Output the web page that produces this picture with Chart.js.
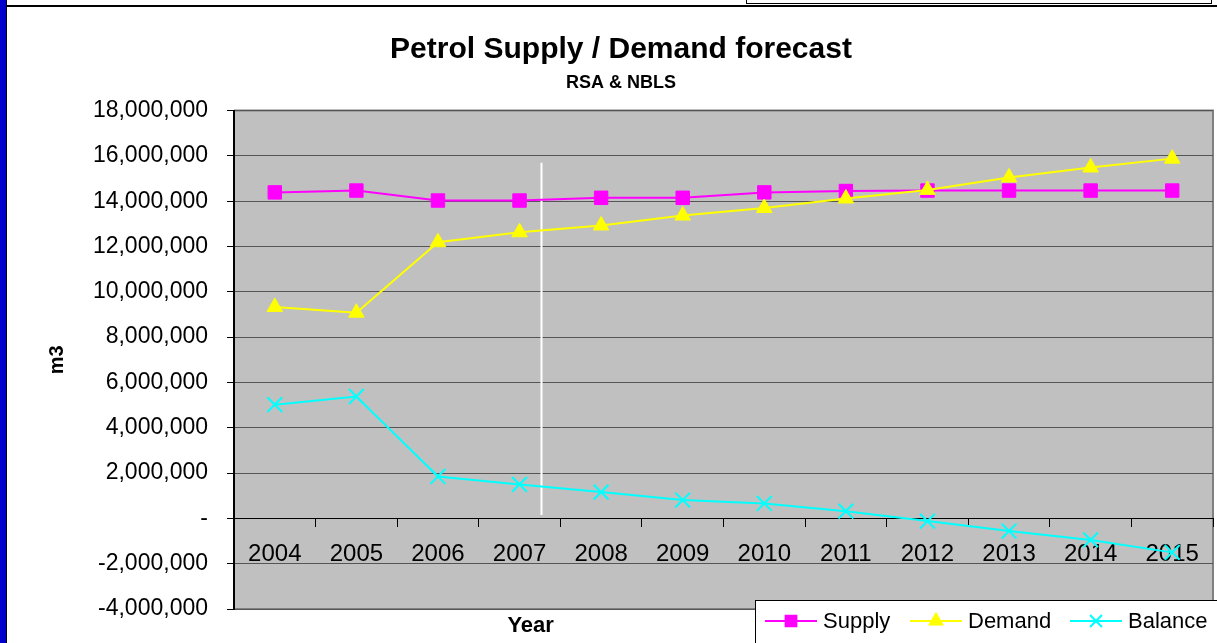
<!DOCTYPE html>
<html>
<head>
<meta charset="utf-8">
<script src="https://cdn.jsdelivr.net/npm/chart.js@4/dist/chart.umd.min.js"></script>
<style>
  html, body { margin: 0; padding: 0; background: #fff; overflow: hidden; }
  #wrap { position: relative; width: 1217px; height: 643px; }
  #c { position: absolute; left: 0; top: 0; }
  #strip { position: absolute; left: 0; top: 0; width: 6px; height: 643px; background: #0000CC; border-right: 1px solid #000; }
  #topline { position: absolute; left: 7px; top: 5px; width: 1210px; height: 2px; background: #000; }
  #topbox { position: absolute; left: 746px; top: -2px; width: 464px; height: 5px; border: 1px solid #000; border-top: none; background: #fff; }
</style>
</head>
<body>
<div id="wrap">
  <canvas id="c" width="1217" height="643"></canvas>
  <div id="strip"></div>
  <div id="topline"></div>
  <div id="topbox"></div>
</div>
<script>
const years = ['2004','2005','2006','2007','2008','2009','2010','2011','2012','2013','2014','2015'];
const supply  = [14390000, 14470000, 14030000, 14030000, 14150000, 14150000, 14390000, 14450000, 14470000, 14470000, 14470000, 14470000];
const demand  = [9330000, 9080000, 12190000, 12630000, 12930000, 13370000, 13700000, 14120000, 14500000, 15050000, 15490000, 15880000];
const balance = [5020000, 5380000, 1850000, 1500000, 1160000, 810000, 660000, 320000, -120000, -560000, -950000, -1500000];
const yTicks = { min: -4000000, max: 18000000, step: 2000000 };
const forecastMarker = { index: 3.26, from: 15700000, to: 150000 };

const FONT = "'Liberation Sans', Arial, sans-serif";

const plotBg = {
  id: 'plotBg',
  beforeDraw(chart) {
    const {ctx, chartArea: a} = chart;
    ctx.save();
    ctx.fillStyle = '#C0C0C0';
    ctx.fillRect(a.left, a.top, a.right - a.left, a.bottom - a.top);
    ctx.strokeStyle = '#808080';
    ctx.lineWidth = 2;
    ctx.beginPath();
    ctx.moveTo(a.left, a.top);
    ctx.lineTo(a.right, a.top);
    ctx.lineTo(a.right, a.bottom);
    ctx.lineTo(a.left, a.bottom);
    ctx.stroke();
    ctx.restore();
  }
};

const marker = {
  id: 'marker',
  beforeDatasetsDraw(chart) {
    const {ctx, scales} = chart;
    const x = Math.round(scales.x.getPixelForValue(forecastMarker.index)) + 0.5;
    ctx.save();
    ctx.strokeStyle = '#FFFFFF';
    ctx.lineWidth = 2;
    ctx.beginPath();
    ctx.moveTo(x, scales.y.getPixelForValue(forecastMarker.from));
    ctx.lineTo(x, scales.y.getPixelForValue(forecastMarker.to));
    ctx.stroke();
    ctx.restore();
  }
};

const extras = {
  id: 'extras',
  afterDraw(chart) {
    const {ctx, chartArea: a} = chart;
    ctx.save();
    ctx.fillStyle = '#000';
    ctx.font = 'bold 22px ' + FONT;
    ctx.textAlign = 'center';
    ctx.textBaseline = 'middle';
    ctx.fillText('Year', a.left + (a.right - a.left) * 0.303, 626);
    const lx = 755.5, ly = 600.5;
    ctx.fillStyle = '#FFFFFF';
    ctx.fillRect(lx, ly, 470, 50);
    ctx.strokeStyle = '#000';
    ctx.lineWidth = 1;
    ctx.strokeRect(lx, ly, 470, 50);
    const starts = [765, 910, 1070];
    const yy = 621;
    chart.data.datasets.forEach((ds, i) => {
      const x0 = starts[i];
      ctx.strokeStyle = ds.borderColor;
      ctx.lineWidth = 2;
      ctx.beginPath();
      ctx.moveTo(x0, yy);
      ctx.lineTo(x0 + 52, yy);
      ctx.stroke();
      ctx.fillStyle = ds.pointBackgroundColor;
      ctx.strokeStyle = ds.pointBorderColor;
      ctx.lineWidth = 2;
      Chart.helpers.drawPoint(ctx, { pointStyle: ds.pointStyle, radius: ds.pointRadius * 0.8, borderWidth: 2 }, x0 + 26, yy);
      ctx.fillStyle = '#000';
      ctx.font = '22px ' + FONT;
      ctx.textAlign = 'left';
      ctx.textBaseline = 'middle';
      ctx.fillText(ds.label, x0 + 58, yy + 1);
    });
    ctx.restore();
  }
};

new Chart(document.getElementById('c'), {
  type: 'line',
  data: {
    labels: years,
    datasets: [
      { label: 'Supply', data: supply, order: 3, borderColor: '#FF00FF', backgroundColor: '#FF00FF',
        pointBackgroundColor: '#FF00FF', pointBorderColor: '#FF00FF',
        pointStyle: 'rect', pointRadius: 9.5, pointBorderWidth: 1, borderWidth: 2, tension: 0 },
      { label: 'Demand', data: demand, order: 2, borderColor: '#FFFF00', backgroundColor: '#FFFF00',
        pointBackgroundColor: '#FFFF00', pointBorderColor: '#FFFF00',
        pointStyle: 'triangle', pointRadius: 9, pointBorderWidth: 1, borderWidth: 2, tension: 0 },
      { label: 'Balance', data: balance, order: 1, borderColor: '#00FFFF', backgroundColor: '#00FFFF',
        pointBackgroundColor: '#00FFFF', pointBorderColor: '#00FFFF',
        pointStyle: 'crossRot', pointRadius: 10.5, pointBorderWidth: 2, borderWidth: 2, tension: 0 }
    ]
  },
  options: {
    responsive: false,
    animation: false,
    devicePixelRatio: 1,
    layout: { autoPadding: false, padding: { left: 29, right: 4, top: 0, bottom: 34 } },
    plugins: {
      legend: { display: false },
      tooltip: { enabled: false },
      title: {
        display: true, text: 'Petrol Supply / Demand forecast', color: '#000',
        font: { family: FONT, size: 30, weight: 'bold' },
        padding: { top: 32, bottom: 1 }
      },
      subtitle: {
        display: true, text: 'RSA & NBLS', color: '#000',
        font: { family: FONT, size: 18, weight: 'bold' },
        padding: { top: 3, bottom: 17 }
      }
    },
    scales: {
      x: {
        type: 'category',
        position: { y: 0 },
        offset: true,
        afterFit(scale) { scale.paddingLeft = 0; scale.paddingRight = 0; scale.paddingTop = 0; scale.paddingBottom = 0; },
        grid: { display: true, drawOnChartArea: false, offset: true, tickLength: 8, tickColor: '#000', tickWidth: 1 },
        border: { display: true, color: '#000', width: 1 },
        ticks: { color: '#000', font: { family: FONT, size: 24 }, padding: 14, maxRotation: 0, autoSkip: false }
      },
      y: {
        min: yTicks.min, max: yTicks.max,
        afterFit(scale) { scale.width = 205; },
        afterBuildTicks(scale) {
          const t = [];
          for (let v = yTicks.min; v <= yTicks.max; v += yTicks.step) t.push({ value: v });
          scale.ticks = t;
        },
        grid: { color: '#555555', lineWidth: 1, tickLength: 7, tickColor: '#000', drawTicks: true },
        border: { display: true, color: '#000', width: 2 },
        ticks: {
          color: '#000', font: { family: FONT, size: 23 }, padding: 19,
          callback: (v) => v === 0 ? '-' : Number(v).toLocaleString('en-US')
        },
        title: {
          display: true, text: 'm3', color: '#000',
          font: { family: FONT, size: 20, weight: 'bold' },
          padding: { top: 16, bottom: 0 }
        }
      }
    }
  },
  plugins: [plotBg, marker, extras]
});
</script>
</body>
</html>
